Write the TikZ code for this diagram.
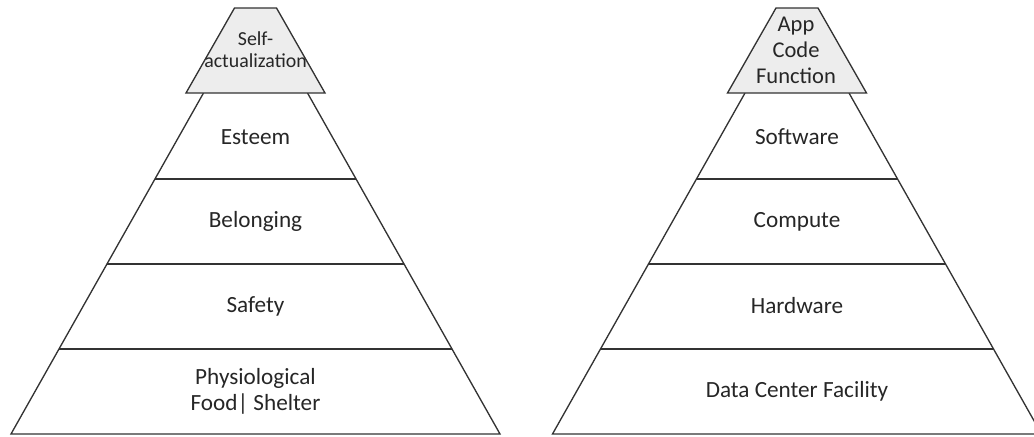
\documentclass[tikz,border=0pt]{standalone}
\usepackage{fontspec}
\setmainfont{Carlito}
\usetikzlibrary{positioning}

\begin{document}
\begin{tikzpicture}[x=0.75pt, y=-0.75pt,
  level/.style = {draw=black!80, line width=1pt},
  apex/.style = {level, fill=black!7},
  tier/.style = {align=center, text=black!85,
    font=\fontsize{17.4}{19.5}\selectfont},
  small tier/.style = {tier, font=\fontsize{14.9}{16.5}\selectfont}]
  \useasboundingbox (0,0) rectangle (1034,436);

  % both pyramids share the same frame
  \foreach \cx in {255.5, 797} {
    \begin{scope}[xshift=\cx*0.75pt]
      \draw[level] (-52,93) -- (-244.5,434) -- (244.5,434) -- (52,93);
      \foreach \y/\w in {179/100.2, 264/148.3, 349/196.4}
        \draw[level] (-\w,\y) -- (\w,\y);
      \draw[apex] (-21,8) -- (21,8) -- (69.5,93) -- (-69.5,93) -- cycle;
    \end{scope}
  }

  % needs (left)
  \node[small tier] (selfact) at (255.5,50) {Self-\\actualization};
  \node[tier] (esteem)   at (255.5,137) {Esteem};
  \node[tier] (belong)   at (255.5,221.5) {Belonging};
  \node[tier] (safety)   at (255.5,306) {Safety};
  \node[tier] (physio)   at (255.5,391.5) {Physiological\\Food| Shelter};

  % stack (right)
  \node[tier, font=\fontsize{16.9}{19.5}\selectfont] (appcode) at (796,50) {App\\Code\\Function};
  \node[tier] (software) at (797,137) {Software};
  \node[tier] (compute)  at (797,221.5) {Compute};
  \node[tier] (hardware) at (797,306) {Hardware};
  \node[tier] (dcfacil)  at (797,391.5) {Data Center Facility};
\end{tikzpicture}
\end{document}
